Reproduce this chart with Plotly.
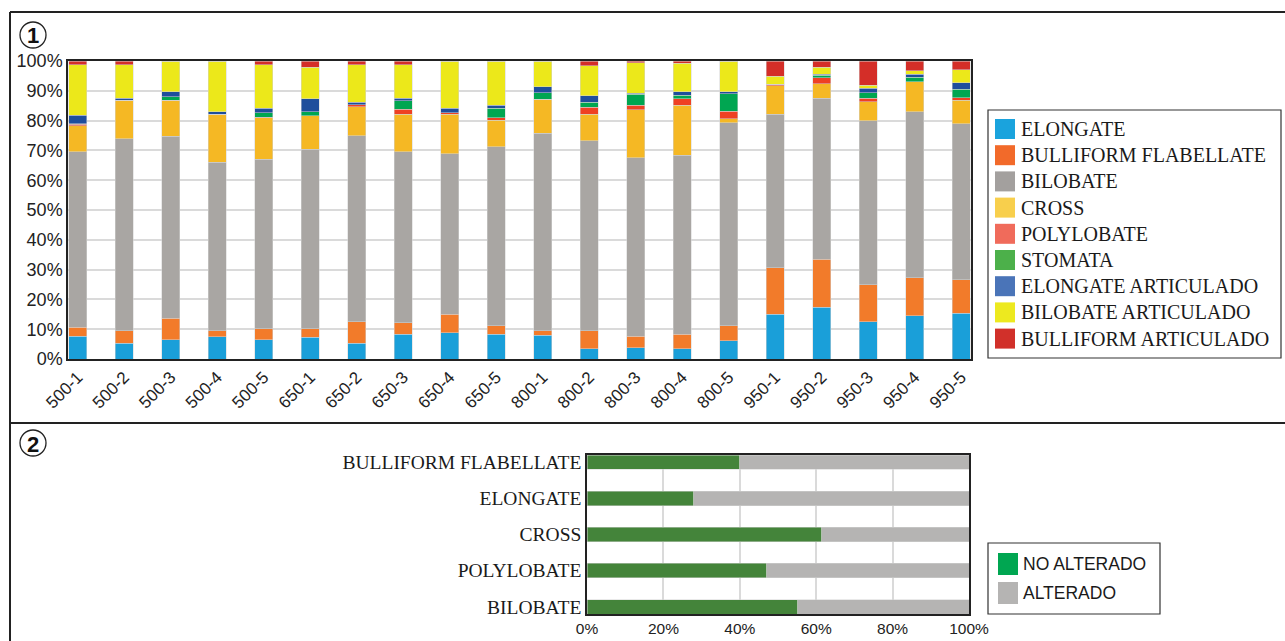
import plotly.graph_objects as go

W, H = 1285, 641

# ---------------- DATA (panel 1) ----------------
samples = ["500-1", "500-2", "500-3", "500-4", "500-5",
           "650-1", "650-2", "650-3", "650-4", "650-5",
           "800-1", "800-2", "800-3", "800-4", "800-5",
           "950-1", "950-2", "950-3", "950-4", "950-5"]

elongate = [7.7, 5.3, 6.4, 7.5, 6.4, 7.3, 5.3, 8.3, 8.8, 8.3, 7.9, 3.4, 3.8, 3.4, 6.2, 15.0, 17.3, 12.5, 14.5, 15.3]
bulliform_flabellate = [2.9, 4.2, 7.2, 2.0, 3.7, 2.8, 7.2, 3.9, 6.2, 2.9, 1.5, 6.1, 3.8, 4.9, 5.0, 15.6, 16.1, 12.4, 12.8, 11.3]
bilobate = [59.0, 64.4, 61.1, 56.5, 57.0, 60.3, 62.4, 57.4, 53.9, 60.1, 66.3, 63.8, 60.0, 60.0, 68.0, 51.6, 54.1, 55.1, 55.6, 52.4]
cross = [8.6, 13.0, 12.2, 16.2, 13.8, 11.3, 9.8, 12.6, 13.2, 8.8, 11.4, 8.9, 16.0, 16.9, 1.4, 9.5, 4.8, 6.4, 10.1, 7.9]
polylobate = [0.5, 0.0, 0.0, 0.0, 0.2, 0.0, 0.6, 1.6, 0.5, 0.9, 0.0, 2.3, 1.5, 2.2, 2.6, 0.5, 2.1, 1.1, 0.0, 0.8]
stomata = [0.3, 0.0, 1.1, 0.0, 1.5, 1.2, 0.0, 2.9, 0.0, 3.2, 2.3, 1.6, 3.8, 1.1, 5.8, 0.0, 0.8, 1.8, 1.6, 2.9]
elongate_articulado = [2.8, 0.6, 1.7, 0.7, 1.6, 4.5, 0.9, 0.8, 1.5, 0.9, 2.0, 2.3, 0.2, 1.2, 0.7, 0.0, 0.4, 1.5, 0.9, 2.1]
bilobate_articulado = [17.0, 11.3, 10.3, 17.1, 14.5, 10.5, 12.6, 11.3, 15.9, 14.9, 8.6, 10.0, 10.3, 9.5, 10.3, 2.7, 2.3, 1.0, 1.3, 4.3]
bulliform_articulado = [1.2, 1.2, 0.0, 0.0, 1.3, 2.1, 1.2, 1.2, 0.0, 0.0, 0.0, 1.6, 0.6, 0.8, 0.0, 5.1, 2.1, 8.2, 3.2, 3.0]

series_names = ["ELONGATE", "BULLIFORM FLABELLATE", "BILOBATE", "CROSS", "POLYLOBATE",
                "STOMATA", "ELONGATE ARTICULADO", "BILOBATE ARTICULADO", "BULLIFORM ARTICULADO"]
series_values = [elongate, bulliform_flabellate, bilobate, cross, polylobate,
                 stomata, elongate_articulado, bilobate_articulado, bulliform_articulado]
bar_colors = ["#1a9fd9", "#f27b2a", "#a9a6a3", "#f5b824", "#ef4123",
              "#00a651", "#1f4e9c", "#ece81a", "#d42e28"]
legend_colors = ["#1aa3dd", "#f26a2a", "#a3a09e", "#f8cf4c", "#f06b5b",
                 "#4cb04a", "#4a74b8", "#ede91f", "#d1302a"]
y1_ticks = [0, 10, 20, 30, 40, 50, 60, 70, 80, 90, 100]
y1_ticklabels = ["0%", "10%", "20%", "30%", "40%", "50%", "60%", "70%", "80%", "90%", "100%"]

# ---------------- DATA (panel 2) ----------------
types_top_to_bottom = ["BULLIFORM FLABELLATE", "ELONGATE", "CROSS", "POLYLOBATE", "BILOBATE"]
no_alterado = [40.0, 28.0, 61.5, 47.0, 55.2]
alterado = [60.0, 72.0, 38.5, 53.0, 44.8]
state_names = ["NO ALTERADO", "ALTERADO"]
state_bar_colors = ["#44843a", "#b5b4b3"]
state_legend_colors = ["#00a651", "#b5b4b3"]
x2_ticks = [0, 20, 40, 60, 80, 100]
x2_ticklabels = ["0%", "20%", "40%", "60%", "80%", "100%"]


def px(x):
    return x / W


def py(y):
    return 1 - y / H


fig = go.Figure()

for name, vals, col in zip(series_names, series_values, bar_colors):
    fig.add_trace(go.Bar(
        x=list(range(len(samples))), y=vals, name=name,
        marker=dict(color=col, line=dict(color="#d4d4d4", width=0.5)),
        xaxis="x", yaxis="y", showlegend=False))

cats_bottom_up = types_top_to_bottom[::-1]
for name, vals, col in zip(state_names, [no_alterado, alterado], state_bar_colors):
    fig.add_trace(go.Bar(
        y=cats_bottom_up, x=vals[::-1], name=name, orientation="h",
        marker=dict(color=col, line=dict(color="#d4d4d4", width=0.5)),
        xaxis="x2", yaxis="y2", showlegend=False, width=0.4))

shapes = []
annotations = []

# panel borders
line_style = dict(color="#222222", width=2)
shapes.append(dict(type="line", xref="paper", yref="paper", x0=px(10), x1=px(1290), y0=py(12), y1=py(12), line=line_style))
shapes.append(dict(type="line", xref="paper", yref="paper", x0=px(10), x1=px(10), y0=py(12), y1=py(650), line=line_style))
shapes.append(dict(type="line", xref="paper", yref="paper", x0=px(10), x1=px(1290), y0=py(423), y1=py(423), line=line_style))

# circled panel numbers
for label, cy in [("1", 35), ("2", 443)]:
    shapes.append(dict(type="circle", xref="paper", yref="paper",
                       x0=px(20), x1=px(46), y0=py(cy - 13), y1=py(cy + 13),
                       line=dict(color="#222222", width=1.3)))
    annotations.append(dict(text="<b>%s</b>" % label, xref="paper", yref="paper",
                            x=px(33), y=py(cy + 1), showarrow=False,
                            font=dict(family="Liberation Sans, Arial", size=22, color="#111111"),
                            xanchor="center", yanchor="middle"))

# legend 1 (manual)
shapes.append(dict(type="rect", xref="paper", yref="paper", x0=px(988), x1=px(1281), y0=py(110), y1=py(358),
                   line=dict(color="#333333", width=1.2)))
for i, (name, col) in enumerate(zip(series_names, legend_colors)):
    cy = 129 + i * 26.2
    shapes.append(dict(type="rect", xref="paper", yref="paper", x0=px(995), x1=px(1015),
                       y0=py(cy - 10), y1=py(cy + 10), fillcolor=col, line=dict(width=0)))
    annotations.append(dict(text=name, xref="paper", yref="paper", x=px(1019), y=py(cy),
                            showarrow=False, xanchor="left", yanchor="middle",
                            font=dict(family="Liberation Serif, Times New Roman", size=20, color="#1a1a1a")))

# legend 2 (manual)
shapes.append(dict(type="rect", xref="paper", yref="paper", x0=px(988), x1=px(1160), y0=py(543), y1=py(614),
                   line=dict(color="#333333", width=1.2)))
for i, (name, col) in enumerate(zip(state_names, state_legend_colors)):
    cy = 564 + i * 29
    shapes.append(dict(type="rect", xref="paper", yref="paper", x0=px(998), x1=px(1018),
                       y0=py(cy - 11), y1=py(cy + 11), fillcolor=col, line=dict(width=0)))
    annotations.append(dict(text=name, xref="paper", yref="paper", x=px(1021), y=py(cy),
                            showarrow=False, xanchor="left", yanchor="middle",
                            font=dict(family="Liberation Sans, Arial", size=17.5, color="#1a1a1a")))

grid_col = "#dadada"
fig.update_layout(
    width=W, height=H,
    margin=dict(l=0, r=0, t=0, b=0, pad=0),
    paper_bgcolor="white", plot_bgcolor="white",
    barmode="stack", bargap=0.61,
    showlegend=False,
    font=dict(family="Liberation Sans, Arial", color="#222222"),
    xaxis=dict(domain=[px(68), px(971)], range=[-0.21, 19.21],
               tickvals=list(range(len(samples))), ticktext=samples,
               tickangle=-45, tickfont=dict(size=17, color="#222222"),
               showgrid=False, showline=True, mirror=True, linecolor="#222222", linewidth=1.5,
               ticks="", zeroline=False, anchor="y", automargin=False),
    yaxis=dict(domain=[py(359), py(61)], range=[0, 100],
               tickvals=y1_ticks, ticktext=y1_ticklabels,
               tickfont=dict(size=18, color="#222222"),
               showgrid=True, gridcolor=grid_col, gridwidth=1.6,
               showline=True, mirror=True, linecolor="#222222", linewidth=1.5,
               ticks="", zeroline=False, anchor="x", automargin=False),
    xaxis2=dict(domain=[px(587), px(969)], range=[0, 100],
                tickvals=x2_ticks, ticktext=x2_ticklabels,
                tickfont=dict(size=15.5, color="#222222"),
                showgrid=True, gridcolor=grid_col, gridwidth=1.6,
                showline=True, mirror=True, linecolor="#222222", linewidth=1.5,
                ticks="", zeroline=False, anchor="y2", automargin=False),
    yaxis2=dict(domain=[py(614), py(455)], range=[-0.2, 4.2],
                categoryorder="array", categoryarray=cats_bottom_up,
                tickfont=dict(family="Liberation Serif, Times New Roman", size=19.5, color="#1a1a1a"),
                showgrid=False, showline=True, mirror=True, linecolor="#222222", linewidth=1.5,
                ticks="", zeroline=False, anchor="x2", automargin=False),
    shapes=shapes, annotations=annotations,
)

fig.write_html("out.html", config={"displayModeBar": False})
